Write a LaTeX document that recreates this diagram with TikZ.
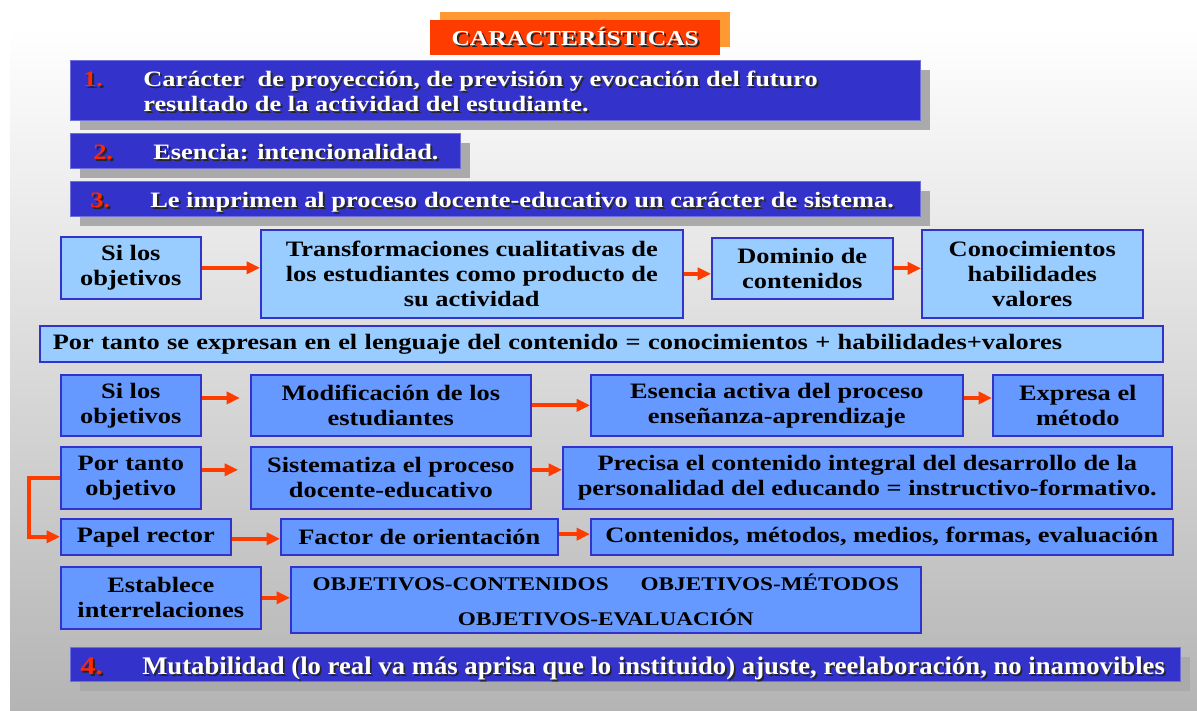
\documentclass[tikz,border=0pt]{standalone}
\usepackage{fontspec}
\setmainfont[FakeStretch=1.2]{Liberation Serif}
\usetikzlibrary{arrows.meta,shadows}

\definecolor{darkbox}{RGB}{51,51,204}
\definecolor{lightbox}{RGB}{153,204,255}
\definecolor{midbox}{RGB}{102,153,255}
\definecolor{linebox}{RGB}{51,51,204}
\definecolor{darkline}{RGB}{110,110,220}
\definecolor{arrowred}{RGB}{255,60,0}
\definecolor{titlered}{RGB}{255,60,0}
\definecolor{titleorange}{RGB}{255,153,51}
\definecolor{shadowgray}{RGB}{170,170,170}
\definecolor{numred}{RGB}{255,40,0}
\definecolor{bgbottom}{RGB}{180,180,180}

% white text with a dark shadow
\newcommand\shtext[1]{\leavevmode\rlap{\kern1.5pt\raisebox{-1.5pt}{\textcolor{black!85}{#1}}}#1}

\tikzset{
  sz/.style 2 args={minimum width=#1*0.75pt, minimum height=#2*0.75pt},
  lbox/.style={draw=linebox, line width=1.2pt, fill=lightbox, inner sep=0pt,
    align=center, anchor=north west, font=\fontsize{16.5}{18.75}\selectfont\bfseries},
  mbox/.style={lbox, fill=midbox},
  dbox/.style={draw=darkline, line width=0.6pt, fill=darkbox, inner sep=0pt, anchor=north west,
    drop shadow={shadow xshift=7.5pt, shadow yshift=-7.5pt, fill=shadowgray, opacity=1}},
  dtext/.style={text=white, anchor=base west, inner sep=0pt,
    font=\fontsize{16.5}{18.75}\selectfont\bfseries},
  num/.style={dtext, text=numred},
  arr/.style={draw=arrowred, line width=3pt, -{Triangle[length=10pt,width=9pt]}},
}

\begin{document}
\begin{tikzpicture}[x=0.75pt, y=-0.75pt]

    \useasboundingbox (0,0) rectangle (1197,711);

    % Background
    \shade[top color=white, bottom color=bgbottom] (10,28) rectangle (1197,711);

    % Title
    \node[fill=titlered, sz={290}{35}, anchor=north west, inner sep=0pt,
      drop shadow={shadow xshift=7.5pt, shadow yshift=6pt, fill=titleorange, opacity=1},
      text=white, font=\fontsize{16}{20}\selectfont\bfseries] (title) at (430,20) {\shtext{CARACTERÍSTICAS}\hspace{6pt}};

    % Numbered items 1--3
    \node[dbox, sz={850}{60}] (item1) at (70,60) {};
    \node[num] (num1) at (83,86) {\shtext{1.}};
    \node[dtext] (text1a) at (143,86) {\shtext{Carácter\ \ de proyección, de previsión y evocación del futuro}};
    \node[dtext] (text1b) at (143,111) {\shtext{resultado de la actividad del estudiante.}};

    \node[dbox, sz={390}{35}] (item2) at (70,133) {};
    \node[num] (num2) at (93,159) {\shtext{2.}};
    \node[dtext] (text2) at (153,159) {\shtext{Esencia: intencionalidad.}};

    \node[dbox, sz={850}{35}] (item3) at (70,181) {};
    \node[num] (num3) at (90,207) {\shtext{3.}};
    \node[dtext] (text3) at (150,207) {\shtext{Le imprimen al proceso docente-educativo un carácter de sistema.}};

    % Row: objetivos -> transformaciones
    \node[lbox, sz={140}{62}] (silos1) at (60,236) {Si los\\objetivos};
    \node[lbox, sz={422}{88}] (transf) at (260,229) {Transformaciones cualitativas de\\los estudiantes como producto de\\su actividad};
    \node[lbox, sz={181}{61}] (dominio) at (711,237) {Dominio de\\contenidos};
    \node[lbox, sz={221}{88}] (conoc) at (921,229) {Conocimientos\\habilidades\\valores};
    \node[lbox, align=left, text width=1097*0.75pt, inner xsep=9.75pt, minimum height=27pt] (lenguaje) at (39,325)
      {Por tanto se expresan en el lenguaje del contenido = conocimientos + habilidades+valores};

    \draw[arr] (silos1.east) -- (silos1.east -| transf.west);
    \draw[arr] (transf.east) -- (transf.east -| dominio.west);
    \draw[arr] (dominio.east) -- (dominio.east -| conoc.west);

    % Row: objetivos -> metodo
    \node[mbox, sz={140}{61}] (silos2) at (60,374) {Si los\\objetivos};
    \node[mbox, sz={280}{61}] (modif) at (250,374) {Modificación de los\\estudiantes};
    \node[mbox, sz={372}{61}] (esencia) at (590,374) {Esencia activa del proceso\\enseñanza-aprendizaje};
    \node[mbox, sz={170}{61}] (metodo) at (992,374) {Expresa el\\método};

    \draw[arr, shorten >=7.5pt] ([yshift=5.5pt]silos2.east) -- ([yshift=5.5pt]silos2.east -| modif.west);
    \draw[arr] (modif.east) -- (modif.east -| esencia.west);
    \draw[arr] ([yshift=5.5pt]esencia.east) -- ([yshift=5.5pt]esencia.east -| metodo.west);

    % Row: por tanto objetivo
    \node[mbox, sz={140}{62}] (portanto) at (60,446) {Por tanto\\objetivo};
    \node[mbox, sz={280}{62}] (sistem) at (250,446) {Sistematiza el proceso\\docente-educativo};
    \node[mbox, sz={609}{62}] (precisa) at (562,446) {Precisa el contenido integral del desarrollo de la\\personalidad del educando = instructivo-formativo.};

    \draw[arr, shorten >=9pt] ([yshift=6pt]portanto.east) -- ([yshift=6pt]portanto.east -| sistem.west);
    \draw[arr] ([yshift=6pt]sistem.east) -- ([yshift=6pt]sistem.east -| precisa.west);

    % Row: papel rector
    \node[mbox, sz={170}{36}] (papel) at (60,518) {Papel rector};
    \node[mbox, sz={277}{36}] (factor) at (280,518) {Factor de orientación};
    \node[mbox, sz={582}{36}] (compon) at (590,518) {Contenidos, métodos, medios, formas, evaluación};

    \draw[arr] (portanto.west) -- ++(-31,0) |- (papel.west);
    \draw[arr] ([yshift=-1.5pt]papel.east) -- ([yshift=-1.5pt]papel.east -| factor.west);
    \draw[arr] ([yshift=2pt]factor.east) -- ([yshift=2pt]factor.east -| compon.west);

    % Row: interrelaciones
    \node[mbox, sz={200}{62}] (establece) at (60,566) {Establece\\interrelaciones};
    \node[mbox, sz={630}{66}, font=\fontsize{14.5}{26.25}\selectfont\bfseries] (relac) at (290,566)
      {OBJETIVOS-CONTENIDOS\hspace{24pt}OBJETIVOS-MÉTODOS\\OBJETIVOS-EVALUACIÓN};

    \draw[arr] (establece.east) -- (establece.east -| relac.west);

    % Item 4
    \node[dbox, sz={1110}{34}] (item4) at (70,647) {};
    \node[num, font=\fontsize{19}{22}\selectfont\bfseries] (num4) at (80,674) {\shtext{4.}};
    \node[dtext, font=\fontsize{19}{22}\selectfont\bfseries] (text4) at (142,674)
      {\resizebox{767pt}{\height}{\shtext{Mutabilidad (lo real va más aprisa que lo instituido) ajuste, reelaboración, no inamovibles}}};

\end{tikzpicture}
\end{document}
